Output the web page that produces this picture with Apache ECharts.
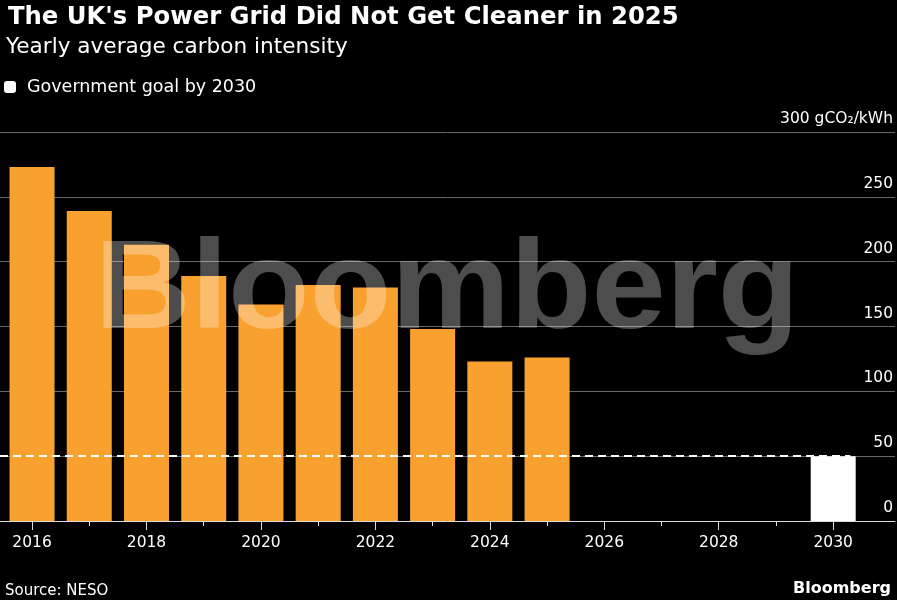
<!DOCTYPE html>
<html><head><meta charset="utf-8">
<script src="https://cdn.jsdelivr.net/npm/echarts@6/dist/echarts.min.js"></script>
<style>html,body{margin:0;padding:0;background:#000;}#c{width:897px;height:600px;}</style>
</head><body><div id="c"></div>
<script>
const years = [2016, 2017, 2018, 2019, 2020, 2021, 2022, 2023, 2024, 2025];
const intensity = [273, 239, 213, 189, 167, 182, 180, 148, 123, 126];
const goalYear = 2030;
const goalValue = 50;
const xLabelYears = [2016, 2018, 2020, 2022, 2024, 2026, 2028, 2030];
const xMinorYears = [2017, 2019, 2021, 2023, 2025, 2027, 2029];
const yTicks = [0, 50, 100, 150, 200, 250, 300];
const xMin = 2015.44, xMax = 2031.08;

const FONT = '"DejaVu Sans", sans-serif';
const chart = echarts.init(document.getElementById('c'), null, {renderer: 'canvas'});
chart.setOption({
  backgroundColor: '#000',
  animation: false,
  title: [
    {text: "The UK's Power Grid Did Not Get Cleaner in 2025", left: 3, top: 1,
     textStyle: {color: '#fff', fontFamily: FONT, fontWeight: 'bold', fontSize: 24.3}},
    {text: 'Yearly average carbon intensity', left: 1, top: 31,
     textStyle: {color: '#fff', fontFamily: FONT, fontWeight: 'normal', fontSize: 21.6}},
    {text: 'Source: NESO', left: 0, top: 579,
     textStyle: {color: '#fff', fontFamily: FONT, fontWeight: 'normal', fontSize: 15}},
    {text: 'Bloomberg', right: 1, top: 576,
     textStyle: {color: '#fff', fontFamily: FONT, fontWeight: 'bold', fontSize: 16}}
  ],
  legend: {
    left: 0, top: 73, itemWidth: 12, itemHeight: 12, itemGap: 11, padding: [5, 5, 5, 4],
    data: [{name: 'Government goal by 2030', icon: 'roundRect'}],
    textStyle: {color: '#fff', fontFamily: FONT, fontSize: 17.5, padding: [0, 0, 0, 6]}
  },
  grid: {left: 0, right: 2, top: 132, bottom: 79, containLabel: false},
  xAxis: [
    {type: 'value', min: xMin, max: xMax, position: 'bottom',
     axisLine: {show: true, onZero: false, lineStyle: {color: '#ddd', width: 1}},
     axisTick: {show: true, length: 9, customValues: xLabelYears, lineStyle: {color: '#ddd'}},
     axisLabel: {show: true, customValues: xLabelYears, color: '#fff', fontFamily: FONT, fontSize: 15.5, margin: 14,
                 formatter: v => String(v)},
     splitLine: {show: false}},
    {type: 'value', min: xMin, max: xMax, position: 'bottom',
     axisLine: {show: false},
     axisTick: {show: true, length: 5, customValues: xMinorYears, lineStyle: {color: '#ddd'}},
     axisLabel: {show: false},
     splitLine: {show: false}}
  ],
  yAxis: {
    type: 'value', position: 'right', min: 0, max: 300, interval: 50,
    axisLine: {show: false}, axisTick: {show: false},
    splitLine: {show: true, lineStyle: {color: '#6a6a6a', width: 1}},
    axisLabel: {inside: true, margin: 2, color: '#fff', fontFamily: FONT, fontSize: 15.5,
                verticalAlign: 'bottom', padding: [0, 0, 5, 0],
                formatter: v => v === 300 ? '300 gCO₂/kWh' : String(v)}
  },
  graphic: [{
    type: 'text', x: 447, y: 230, scaleX: 1.06, z: 100, silent: true,
    style: {text: 'Bloomberg', fill: 'rgba(255,255,255,0.3)', align: 'center', verticalAlign: 'top',
            fontFamily: '"Liberation Sans", Arial, sans-serif', fontWeight: 'bold', fontSize: 126}
  }],
  series: [
    {name: 'Carbon intensity', type: 'bar', barWidth: 45, barGap: '-100%',
     itemStyle: {color: '#f9a12f'},
     data: years.map((y, i) => [y, intensity[i]]),
     markLine: {silent: true, symbol: 'none', z: 10, label: {show: false},
       lineStyle: {color: '#fff', type: [8, 5], width: 2},
       data: [[{coord: [xMin, goalValue]}, {coord: [goalYear + 0.3, goalValue]}]]}},
    {name: 'Government goal by 2030', type: 'bar', barWidth: 45, barGap: '-100%',
     itemStyle: {color: '#fff'},
     data: [[goalYear, goalValue]]}
  ]
});
</script></body></html>
